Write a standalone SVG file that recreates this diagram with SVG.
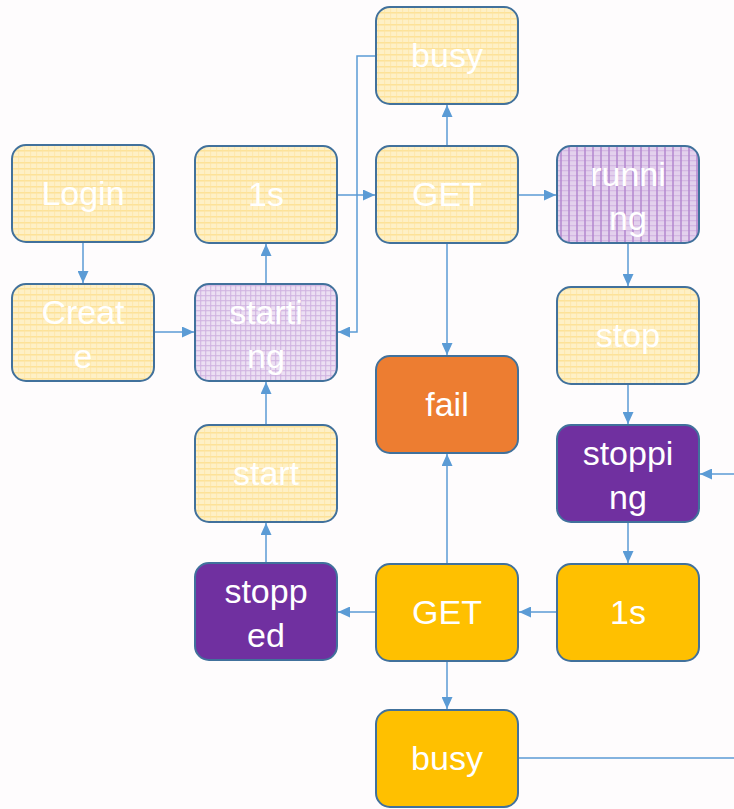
<svg xmlns="http://www.w3.org/2000/svg" width="734" height="809" viewBox="0 0 734 809">
  <style>
    .box { stroke: #41719C; stroke-width: 2; }
    .lbl { font-family: "Liberation Sans", Arial, sans-serif; font-size: 34px; fill: #ffffff; text-anchor: middle; }
    .wire { fill: none; stroke: #5B9BD5; stroke-width: 1.5; }
    .yel { fill: url(#plaidYellow); }
    .lil { fill: url(#plaidLilac); }
    .pur { fill: url(#stripePurple); }
    .org { fill: #ED7D31; }
    .vio { fill: #7030A0; }
    .amb { fill: #FFC000; }
  </style>
  <defs>
    <pattern id="plaidYellow" width="6" height="6" patternUnits="userSpaceOnUse">
      <rect width="6" height="6" fill="#FEF0C6"/>
      <rect width="6" height="1.5" fill="#FDDC84" opacity="0.7"/>
      <rect width="1.2" height="6" fill="#FDE2A0" opacity="0.6"/>
    </pattern>
    <pattern id="plaidLilac" width="5" height="5" patternUnits="userSpaceOnUse">
      <rect width="5" height="5" fill="#ECDFF3"/>
      <rect width="5" height="1.3" fill="#CFB2E0" opacity="0.8"/>
      <rect width="1.3" height="5" fill="#CFB2E0" opacity="0.8"/>
    </pattern>
    <pattern id="stripePurple" width="8" height="5" patternUnits="userSpaceOnUse">
      <rect width="8" height="5" fill="#E3D1ED"/>
      <rect width="8" height="1.3" fill="#CDAEDF" opacity="0.7"/>
      <rect width="2" height="5" fill="#B386CE" opacity="0.75"/>
    </pattern>
    <marker id="arrow" viewBox="0 0 12 11" refX="12" refY="5.5" markerWidth="12" markerHeight="11" markerUnits="userSpaceOnUse" orient="auto">
      <path d="M0,0 L12,5.5 L0,11 z" fill="#5B9BD5"/>
    </marker>
  </defs>

  <rect width="734" height="809" fill="#FEFCFD"/>

  <!-- connectors -->
  <g id="connectors">
    <g marker-end="url(#arrow)">
      <path class="wire" d="M83,242 V283"/>
      <path class="wire" d="M154,332 H194"/>
      <path class="wire" d="M266,284 V244"/>
      <path class="wire" d="M266,425 V382"/>
      <path class="wire" d="M266,563 V523"/>
      <path class="wire" d="M337,195 H375"/>
      <path class="wire" d="M376,56 H357 V332 H338"/>
      <path class="wire" d="M447,146 V105"/>
      <path class="wire" d="M447,243 V355"/>
      <path class="wire" d="M518,195 H556"/>
      <path class="wire" d="M628,243 V286"/>
      <path class="wire" d="M628,384 V424"/>
      <path class="wire" d="M628,522 V563"/>
      <path class="wire" d="M557,612 H519"/>
      <path class="wire" d="M376,612 H338"/>
      <path class="wire" d="M447,564 V454"/>
      <path class="wire" d="M447,661 V709"/>
      <path class="wire" d="M734,474 H700"/>
    </g>
    <path class="wire" d="M518,758 H734"/>
  </g>

  <!-- nodes -->
  <g id="login">
    <rect class="box yel" x="12" y="145" width="142" height="97" rx="14"/>
    <text class="lbl" x="83" y="205">Login</text>
  </g>
  <g id="create">
    <rect class="box yel" x="12" y="284" width="142" height="97" rx="14"/>
    <text class="lbl" x="83" y="324">Creat</text>
    <text class="lbl" x="83" y="368">e</text>
  </g>
  <g id="wait-1s-top">
    <rect class="box yel" x="195" y="146" width="142" height="97" rx="14"/>
    <text class="lbl" x="266" y="206">1s</text>
  </g>
  <g id="starting">
    <rect class="box lil" x="195" y="284" width="142" height="97" rx="14"/>
    <text class="lbl" x="266" y="324">starti</text>
    <text class="lbl" x="266" y="368">ng</text>
  </g>
  <g id="start">
    <rect class="box yel" x="195" y="425" width="142" height="97" rx="14"/>
    <text class="lbl" x="266" y="485">start</text>
  </g>
  <g id="stopped">
    <rect class="box vio" x="195" y="563" width="142" height="97" rx="14"/>
    <text class="lbl" x="266" y="603">stopp</text>
    <text class="lbl" x="266" y="647">ed</text>
  </g>
  <g id="busy-top">
    <rect class="box yel" x="376" y="7" width="142" height="97" rx="14"/>
    <text class="lbl" x="447" y="67">busy</text>
  </g>
  <g id="get-top">
    <rect class="box yel" x="376" y="146" width="142" height="97" rx="14"/>
    <text class="lbl" x="447" y="206">GET</text>
  </g>
  <g id="fail">
    <rect class="box org" x="376" y="356" width="142" height="97" rx="14"/>
    <text class="lbl" x="447" y="416">fail</text>
  </g>
  <g id="get-bottom">
    <rect class="box amb" x="376" y="564" width="142" height="97" rx="14"/>
    <text class="lbl" x="447" y="624">GET</text>
  </g>
  <g id="busy-bottom">
    <rect class="box amb" x="376" y="710" width="142" height="97" rx="14"/>
    <text class="lbl" x="447" y="770">busy</text>
  </g>
  <g id="running">
    <rect class="box pur" x="557" y="146" width="142" height="97" rx="14"/>
    <text class="lbl" x="628" y="186">runni</text>
    <text class="lbl" x="628" y="230">ng</text>
  </g>
  <g id="stop">
    <rect class="box yel" x="557" y="287" width="142" height="97" rx="14"/>
    <text class="lbl" x="628" y="347">stop</text>
  </g>
  <g id="stopping">
    <rect class="box vio" x="557" y="425" width="142" height="97" rx="14"/>
    <text class="lbl" x="628" y="465">stoppi</text>
    <text class="lbl" x="628" y="509">ng</text>
  </g>
  <g id="wait-1s-bottom">
    <rect class="box amb" x="557" y="564" width="142" height="97" rx="14"/>
    <text class="lbl" x="628" y="624">1s</text>
  </g>
</svg>
